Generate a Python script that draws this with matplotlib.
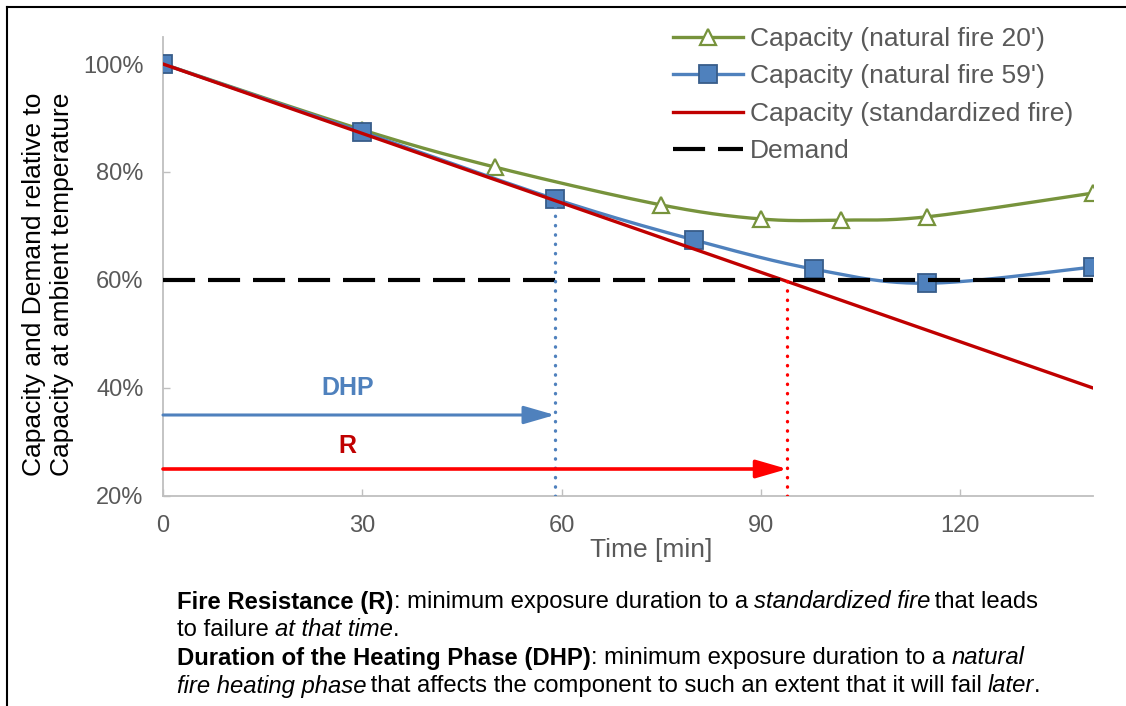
import matplotlib
matplotlib.use("Agg")
import matplotlib.pyplot as plt
import numpy as np
from matplotlib.lines import Line2D
from matplotlib.ticker import FuncFormatter

plt.rcParams["font.family"] = ["Liberation Sans", "DejaVu Sans"]

# data
t_nat20 = [0, 30, 50, 75, 90, 102, 115, 140]
cap_nat20 = [1.00, 0.878, 0.809, 0.739, 0.713, 0.711, 0.717, 0.761]
t_nat59 = [0, 30, 59, 80, 98, 115, 140]
cap_nat59 = [1.00, 0.874, 0.750, 0.674, 0.620, 0.594, 0.624]
t_std = [0, 140]
cap_std = [1.00, 0.40]
demand = 0.60
t_dhp = 59
t_r = 94
arrow_dhp_y = 0.35
arrow_r_y = 0.25

GREEN = "#77933C"
BLUE = "#4F81BD"
BLUE_EDGE = "#385D8A"
DARKRED = "#C00000"
RED = "#FF0000"
GRAY = "#595959"
AXGRAY = "#BFBFBF"


def smooth(x, y, n=40):
    # Excel-style smoothed line: cubic bezier through the points (Catmull-Rom tension)
    pts = np.column_stack([x, y]).astype(float)
    P = np.vstack([pts[0], pts, pts[-1]])
    t = np.linspace(0, 1, n)[:, None]
    segs = []
    for i in range(len(pts) - 1):
        p0, p1, p2, p3 = P[i], P[i + 1], P[i + 2], P[i + 3]
        c1 = p1 + (p2 - p0) / 6.0
        c2 = p2 - (p3 - p1) / 6.0
        seg = (1 - t) ** 3 * p1 + 3 * (1 - t) ** 2 * t * c1 + 3 * (1 - t) * t ** 2 * c2 + t ** 3 * p2
        segs.append(seg if i == 0 else seg[1:])
    out = np.vstack(segs)
    return out[:, 0], out[:, 1]


W, H = 1126, 706
fig = plt.figure(figsize=(W / 100, H / 100), dpi=100)
ax = fig.add_axes([163 / W, 1 - 496 / H, (1093 - 163) / W, (496 - 37) / H])

# green natural fire 20'
sx, sy = smooth(t_nat20, cap_nat20)
ax.plot(sx, sy, color=GREEN, lw=2.4, zorder=2)
ax.plot(t_nat20, cap_nat20, ls="none", marker="^", ms=12, mfc="white", mec=GREEN, mew=1.6, zorder=3)

# blue natural fire 59'
sx, sy = smooth(t_nat59, cap_nat59)
ax.plot(sx, sy, color=BLUE, lw=2.4, zorder=4)
ax.plot(t_nat59, cap_nat59, ls="none", marker="s", ms=12.5, mfc=BLUE, mec=BLUE_EDGE, mew=1.3, zorder=5)

# standardized fire
ax.plot(t_std, cap_std, color=DARKRED, lw=2.4, zorder=6)

# demand
ax.plot([0, 140], [demand, demand], color="black", lw=3.0, dashes=(7.7, 3.1), zorder=7)

# dotted failure markers
ax.plot([t_dhp, t_dhp], [0.2, cap_nat59[2]], color=BLUE, lw=2.4, ls=(0, (0.1, 2.7)),
        dash_capstyle="round", zorder=8)
ax.plot([t_r, t_r], [0.2, demand], color=RED, lw=2.4, ls=(0, (0.1, 2.7)),
        dash_capstyle="round", zorder=8)

# arrows
ax.annotate("", xy=(t_dhp, arrow_dhp_y), xytext=(0, arrow_dhp_y),
            arrowprops=dict(arrowstyle="-|>,head_length=1.9,head_width=0.55", mutation_scale=10,
                            color=BLUE, lw=2.2, shrinkA=0, shrinkB=0), zorder=9)
ax.annotate("", xy=(t_r, arrow_r_y), xytext=(0, arrow_r_y),
            arrowprops=dict(arrowstyle="-|>,head_length=1.9,head_width=0.55", mutation_scale=10,
                            color=RED, lw=2.6, shrinkA=0, shrinkB=0), zorder=9)
ax.text(27.8, 0.400, "DHP", color=BLUE, fontsize=18, fontweight="bold", ha="center", va="center")
ax.text(27.8, 0.293, "R", color=DARKRED, fontsize=18, fontweight="bold", ha="center", va="center")

ax.set_xlim(0, 140)
ax.set_ylim(0.2, 1.05)
ax.set_xticks([0, 30, 60, 90, 120])
ax.set_yticks([0.2, 0.4, 0.6, 0.8, 1.0])
ax.yaxis.set_major_formatter(FuncFormatter(lambda v, _: f"{v * 100:.0f}%"))
for s in ["top", "right"]:
    ax.spines[s].set_visible(False)
for s in ["left", "bottom"]:
    ax.spines[s].set_color(AXGRAY)
    ax.spines[s].set_linewidth(1.3)
ax.tick_params(direction="in", length=5, width=1.0, color=AXGRAY, labelcolor=GRAY,
               labelsize=17, pad=14)

ax.set_xlabel("Time [min]", fontsize=19, color=GRAY)
ax.xaxis.set_label_coords((651 - 163) / 930, (496 - 550) / 459)
ax.xaxis.label.set_va("center")

fig.text(48 / W, 1 - 284 / H, "Capacity and Demand relative to\nCapacity at ambient temperature",
         rotation=90, fontsize=19, color="black", ha="center", va="center", linespacing=1.24,
         multialignment="center")

handles = [
    Line2D([], [], color=GREEN, lw=2.4, marker="^", ms=12, mfc="white", mec=GREEN, mew=1.6),
    Line2D([], [], color=BLUE, lw=2.4, marker="s", ms=12.5, mfc=BLUE, mec=BLUE_EDGE, mew=1.3),
    Line2D([], [], color=DARKRED, lw=2.4),
    Line2D([], [], color="black", lw=3.0, dashes=(7.7, 3.1)),
]
labels = ["Capacity (natural fire 20')", "Capacity (natural fire 59')",
          "Capacity (standardized fire)", "Demand"]
leg = fig.legend(handles, labels, loc="upper left", bbox_to_anchor=(673 / W, 1 - 27 / H),
                 frameon=False, fontsize=19, handlelength=2.65, handletextpad=0.27,
                 labelspacing=0.51, borderpad=0, borderaxespad=0, numpoints=1)
for txt in leg.get_texts():
    txt.set_color(GRAY)

# outer frame (left and top edges visible)
fig.add_artist(Line2D([7 / W, 7 / W], [0, 1 - 7 / H], color="black", lw=1.5, transform=fig.transFigure))
fig.add_artist(Line2D([7 / W, 1], [1 - 7 / H, 1 - 7 / H], color="black", lw=1.5, transform=fig.transFigure))

# caption with mixed styles
caption = [
    [("Fire Resistance (R)", "bold", "normal"), (": minimum exposure duration to a ", "normal", "normal"),
     ("standardized fire", "normal", "italic"), (" that leads", "normal", "normal")],
    [("to failure ", "normal", "normal"), ("at that time", "normal", "italic"), (".", "normal", "normal")],
    [("Duration of the Heating Phase (DHP)", "bold", "normal"),
     (": minimum exposure duration to a ", "normal", "normal"), ("natural", "normal", "italic")],
    [("fire heating phase", "normal", "italic"),
     (" that affects the component to such an extent that it will fail ", "normal", "normal"),
     ("later", "normal", "italic"), (".", "normal", "normal")],
]
line_y = [602, 630, 658, 686]
renderer = fig.canvas.get_renderer()
for parts, yy in zip(caption, line_y):
    x0 = 177
    for i, (text, weight, style) in enumerate(parts):
        t = fig.text(x0 / W, 1 - yy / H, text, fontsize=17.2, fontweight=weight, fontstyle=style,
                     color="black", ha="left", va="center")
        bb = t.get_window_extent(renderer=renderer)
        x0 += bb.width
        # italic extents include the slant overhang; tighten before a following space
        if style == "italic" and i + 1 < len(parts) and parts[i + 1][0].startswith(" "):
            x0 -= 3

fig.savefig("out.png", dpi=100)
